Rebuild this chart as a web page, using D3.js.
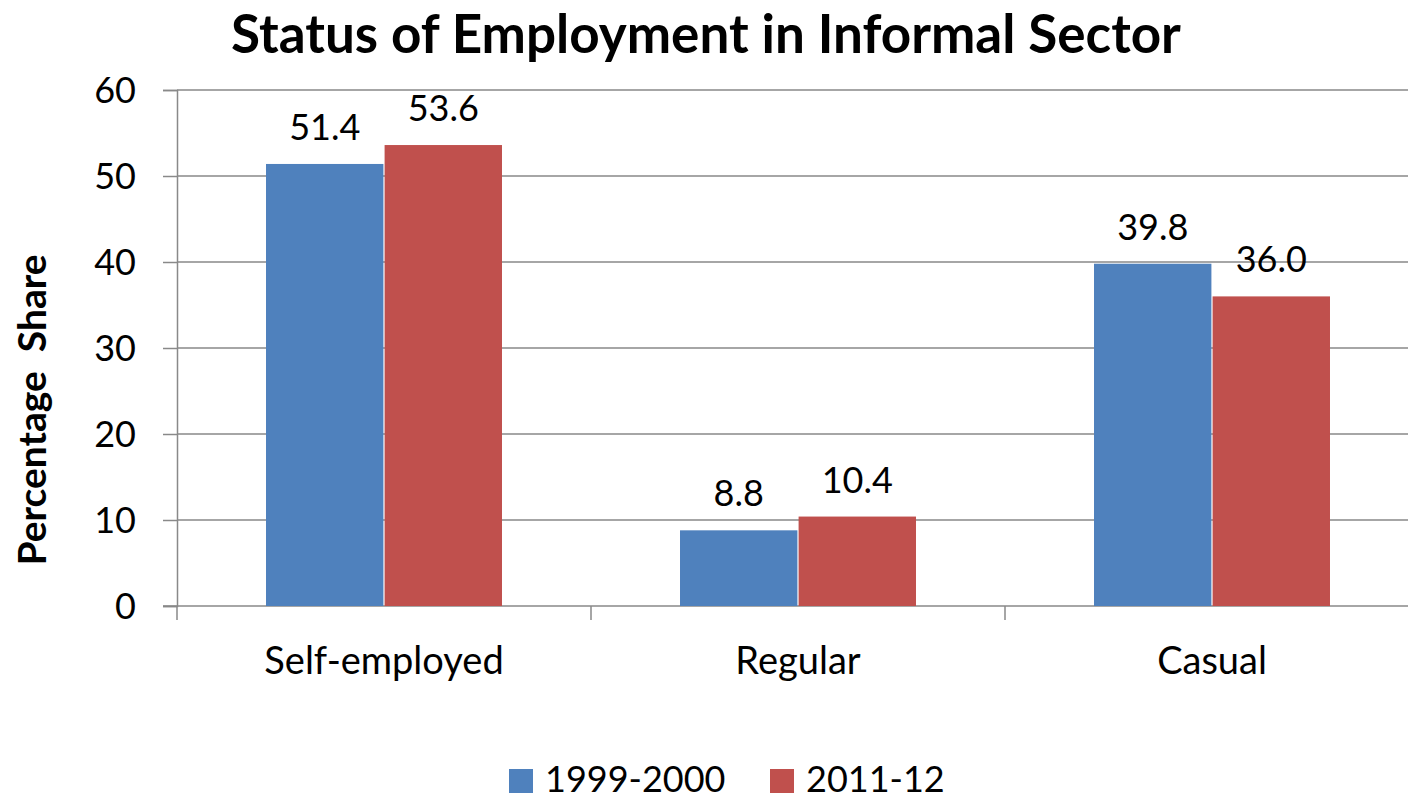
<!DOCTYPE html>
<html>
<head>
<meta charset="utf-8">
<script src="https://cdn.jsdelivr.net/npm/d3@7"></script>
<style>
  body { margin: 0; background: #fff; }
  svg { display: block; }
  svg text { font-family: Lato, "Open Sans", sans-serif; }
</style>
</head>
<body>
<svg id="chart" width="1408" height="799"></svg>
<script>
const categories = ['Self-employed', 'Regular', 'Casual'];
const seriesNames = ['1999-2000', '2011-12'];
const values1999 = [51.4, 8.8, 39.8];
const values2011 = [53.6, 10.4, 36.0];
const yTicks = [0, 10, 20, 30, 40, 50, 60];
const colors = ['#4F81BD', '#C0504D'];

const svg = d3.select('#chart');
const margin = { left: 177, right: -11, top: 90, bottom: 193 };
const W = 1408, H = 799;

const x0 = d3.scaleBand()
    .domain(categories)
    .range([margin.left, W - margin.right])
    .paddingInner(0.43)
    .paddingOuter(0.215);
const x1 = d3.scaleBand().domain(seriesNames).range([0, x0.bandwidth()]).paddingInner(0.01);
const y = d3.scaleLinear().domain([0, 60]).range([H - margin.bottom, margin.top]);

const grid = '#898989';

// gridlines
svg.append('g').selectAll('line').data(yTicks.filter(d => d > 0)).enter().append('line')
    .attr('x1', margin.left).attr('x2', W)
    .attr('y1', d => y(d)).attr('y2', d => y(d))
    .attr('stroke', grid).attr('stroke-width', 1.5);

// y axis
const yAxis = svg.append('g')
    .attr('transform', `translate(${margin.left},0)`)
    .call(d3.axisLeft(y).tickValues(yTicks).tickSize(14).tickPadding(27));
yAxis.select('.domain').attr('stroke', grid).attr('stroke-width', 1.5);
yAxis.selectAll('.tick line').attr('stroke', grid).attr('stroke-width', 1.5);
yAxis.selectAll('.tick text').attr('font-size', 36).attr('fill', '#000').attr('dy', '0.36em');

// x axis
const xAxis = svg.append('g')
    .attr('transform', `translate(0,${y(0)})`)
    .call(d3.axisBottom(x0).tickSize(0).tickPadding(41));
xAxis.select('.domain').remove();
svg.append('line')
    .attr('x1', margin.left - 14).attr('x2', W)
    .attr('y1', y(0)).attr('y2', y(0))
    .attr('stroke', grid).attr('stroke-width', 1.5);
const step = x0.step();
const sepX = d3.range(categories.length + 1).map(i => margin.left + i * step);
svg.append('g').selectAll('line').data(sepX).enter().append('line')
    .attr('x1', d => d).attr('x2', d => d)
    .attr('y1', y(0)).attr('y2', y(0) + 14)
    .attr('stroke', grid).attr('stroke-width', 1.5);
xAxis.selectAll('.tick text').attr('font-size', 38).attr('fill', '#000').attr('dy', '0.71em');

// bars
const rows = categories.map((c, i) => ({ cat: c, vals: [values1999[i], values2011[i]] }));
const groups = svg.append('g').selectAll('g').data(rows).enter().append('g')
    .attr('transform', d => `translate(${x0(d.cat)},0)`);
groups.selectAll('rect').data(d => d.vals.map((v, j) => ({ key: seriesNames[j], v, j }))).enter().append('rect')
    .attr('x', d => x1(d.key))
    .attr('width', x1.bandwidth())
    .attr('y', d => y(d.v))
    .attr('height', d => y(0) - y(d.v))
    .attr('fill', d => colors[d.j]);
groups.selectAll('text').data(d => d.vals.map((v, j) => ({ key: seriesNames[j], v, j }))).enter().append('text')
    .attr('x', d => x1(d.key) + x1.bandwidth() / 2)
    .attr('y', d => y(d.v) - 24)
    .attr('text-anchor', 'middle')
    .attr('font-size', 36)
    .text(d => d.v.toFixed(1));

// title
svg.append('text')
    .attr('x', 706).attr('y', 53)
    .attr('text-anchor', 'middle')
    .attr('font-size', 53).attr('font-weight', 'bold')
    .text('Status of Employment in Informal Sector');

// y label
svg.append('text')
    .attr('transform', `translate(46,410) rotate(-90)`)
    .attr('text-anchor', 'middle')
    .attr('font-size', 39).attr('font-weight', 'bold')
    .attr('xml:space', 'preserve')
    .text('Percentage  Share');

// legend
const legend = svg.append('g');
const legX = [509, 770];
seriesNames.forEach((s, i) => {
    legend.append('rect').attr('x', legX[i]).attr('y', 769).attr('width', 24).attr('height', 24).attr('fill', colors[i]);
    legend.append('text').attr('x', legX[i] + 36).attr('y', 792).attr('font-size', 36).text(s);
});
</script>
</body>
</html>
